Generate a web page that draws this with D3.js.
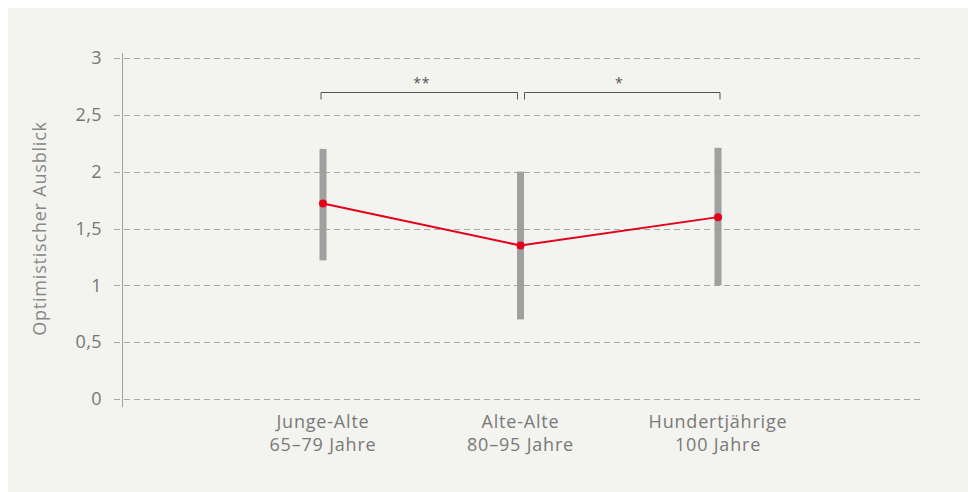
<!DOCTYPE html>
<html>
<head>
<meta charset="utf-8">
<script src="https://cdn.jsdelivr.net/npm/d3@7"></script>
<style>
  body { margin: 0; background: #fff; }
  svg { display: block; font-family: "Open Sans", Roboto, sans-serif; letter-spacing: 0.8px; }
</style>
</head>
<body>
<svg id="chart" width="968" height="492"></svg>
<script>
// ---- //
// Data //
// ---- //
const groups = ["Junge-Alte", "Alte-Alte", "Hundertjährige"];
const groupAges = ["65–79 Jahre", "80–95 Jahre", "100 Jahre"];
const means = [1.72, 1.35, 1.60];
const lows = [1.22, 0.70, 1.00];
const highs = [2.20, 2.00, 2.21];
const yTicks = [0, 0.5, 1, 1.5, 2, 2.5, 3];
// significance brackets: [from, to, label]
const brackets = [
  ["Junge-Alte", "Alte-Alte", "**"],
  ["Alte-Alte", "Hundertjährige", "*"]
];
const bracketLevel = 2.70;

// ------ //
// Layout //
// ------ //
const svg = d3.select("#chart");
const axisX = 122, gridLeft = 114, gridRight = 922;
const plotTop = 58, plotBottom = 399;

svg.append("rect")
  .attr("x", 8).attr("y", 8)
  .attr("width", 968).attr("height", 492)
  .attr("fill", "#f3f3ef");

const x = d3.scalePoint()
  .domain(groups)
  .range([125.5, 915.5])
  .padding(1);

const y = d3.scaleLinear()
  .domain([0, 3])
  .range([plotBottom, plotTop]);

const fmt = d => String(d).replace(".", ",");

// grid lines
svg.append("g")
  .selectAll("line")
  .data(yTicks)
  .join("line")
  .attr("x1", gridLeft).attr("x2", gridRight)
  .attr("y1", d => Math.round(y(d)) + 0.5).attr("y2", d => Math.round(y(d)) + 0.5)
  .attr("stroke", "#a8a8a6")
  .attr("stroke-width", 1)
  .attr("stroke-dasharray", "6,4");

// y axis line
svg.append("line")
  .attr("x1", axisX + 0.5).attr("x2", axisX + 0.5)
  .attr("y1", y(3) - 5).attr("y2", y(0) + 8)
  .attr("stroke", "#a0a0a0")
  .attr("stroke-width", 1);

// y tick labels
svg.append("g")
  .selectAll("text")
  .data(yTicks)
  .join("text")
  .attr("x", 102)
  .attr("y", d => y(d))
  .attr("dy", "0.35em")
  .attr("text-anchor", "end")
  .attr("font-size", 18)
  .attr("letter-spacing", 0.4)
  .attr("fill", "#777")
  .text(fmt);

// y axis title
svg.append("text")
  .attr("transform", `translate(46, ${(plotTop + plotBottom) / 2}) rotate(-90)`)
  .attr("text-anchor", "middle")
  .attr("font-size", 18)
  .attr("fill", "#888")
  .text("Optimistischer Ausblick");

// category labels
const cat = svg.append("g")
  .selectAll("text")
  .data(groups)
  .join("text")
  .attr("x", d => x(d))
  .attr("text-anchor", "middle")
  .attr("font-size", 18)
  .attr("fill", "#7a7a7a");
cat.append("tspan").attr("x", d => x(d)).attr("y", 428).text(d => d);
cat.append("tspan").attr("x", d => x(d)).attr("y", 451).text((d, i) => groupAges[i]);

// error bars
svg.append("g")
  .selectAll("rect")
  .data(groups)
  .join("rect")
  .attr("x", d => x(d) - 3.5)
  .attr("width", 7)
  .attr("y", (d, i) => y(highs[i]))
  .attr("height", (d, i) => y(lows[i]) - y(highs[i]))
  .attr("fill", "#a0a0a0");

// mean line
const line = d3.line()
  .x((d, i) => x(groups[i]))
  .y(d => y(d));

svg.append("path")
  .datum(means)
  .attr("d", line)
  .attr("fill", "none")
  .attr("stroke", "#e2001a")
  .attr("stroke-width", 2);

svg.append("g")
  .selectAll("circle")
  .data(means)
  .join("circle")
  .attr("cx", (d, i) => x(groups[i]))
  .attr("cy", d => y(d))
  .attr("r", 4)
  .attr("fill", "#e2001a");

// significance brackets
const br = svg.append("g")
  .selectAll("g")
  .data(brackets)
  .join("g");

br.append("path")
  .attr("d", (d, i) => {
    const x0 = x(d[0]) + (i === 0 ? -2 : 4);
    const x1 = x(d[1]) + (i === 0 ? -3 : 2);
    const yb = Math.round(y(bracketLevel)) + 0.5;
    return `M${x0},${yb + 7}V${yb}H${x1}V${yb + 7}`;
  })
  .attr("fill", "none")
  .attr("stroke", "#555")
  .attr("stroke-width", 1);

br.append("text")
  .attr("x", d => (x(d[0]) + x(d[1])) / 2)
  .attr("y", y(bracketLevel) - 4)
  .attr("text-anchor", "middle")
  .attr("font-size", 14)
  .attr("fill", "#555")
  .text(d => d[2]);
</script>
</body>
</html>
